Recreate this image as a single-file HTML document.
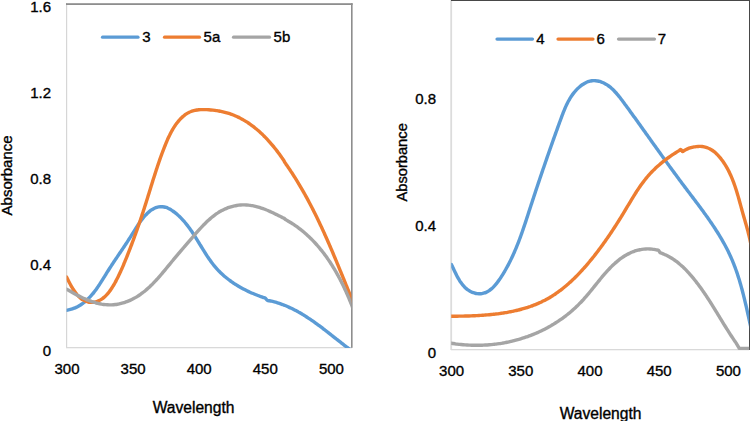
<!DOCTYPE html>
<html><head><meta charset="utf-8"><title>Absorbance spectra</title>
<style>
html,body{margin:0;padding:0;background:#fff;}
body{width:750px;height:421px;overflow:hidden;font-family:"Liberation Sans",sans-serif;}
svg{display:block;}
</style></head><body>
<svg width="750" height="421" viewBox="0 0 750 421">
<defs><clipPath id="cl"><rect x="66.6" y="0" width="284.8" height="347.9"/></clipPath><clipPath id="cr"><rect x="451.2" y="0" width="298" height="350"/></clipPath></defs>
<rect x="66" y="3" width="1.2" height="345" fill="#d6d6d6"/>
<rect x="66" y="347" width="286" height="1.3" fill="#d9d9d9"/>
<rect x="66" y="3.2" width="286.6" height="1.8" fill="#8e8e8e"/>
<rect x="351" y="3.2" width="1.6" height="344.6" fill="#8e8e8e"/>
<g fill="none" stroke-width="3.4" stroke-linecap="round" stroke-linejoin="round" clip-path="url(#cl)">
<path d="M66.36 310.34C66.71 310.28 67.78 310.09 68.47 309.94C69.15 309.79 69.83 309.62 70.49 309.44C71.16 309.26 71.81 309.05 72.45 308.84C73.09 308.62 73.72 308.39 74.34 308.14C74.96 307.90 75.57 307.63 76.16 307.36C76.76 307.08 77.35 306.79 77.92 306.49C78.50 306.18 79.07 305.86 79.62 305.53C80.18 305.20 80.73 304.86 81.26 304.50C81.80 304.14 82.33 303.77 82.85 303.39C83.37 303.01 83.88 302.62 84.38 302.22C84.89 301.81 85.38 301.40 85.87 300.98C86.36 300.55 86.84 300.12 87.31 299.67C87.78 299.23 88.25 298.77 88.70 298.31C89.16 297.85 89.61 297.37 90.06 296.89C90.50 296.41 90.94 295.92 91.37 295.43C91.81 294.93 92.23 294.43 92.65 293.92C93.08 293.41 93.49 292.89 93.90 292.36C94.31 291.84 94.72 291.31 95.12 290.77C95.52 290.24 95.92 289.70 96.31 289.15C96.71 288.60 97.09 288.05 97.48 287.50C97.86 286.94 98.25 286.38 98.63 285.82C99.00 285.26 99.38 284.69 99.75 284.12C100.13 283.55 100.50 282.98 100.86 282.40C101.23 281.83 101.60 281.25 101.96 280.67C102.33 280.09 102.69 279.51 103.05 278.93C103.41 278.35 103.77 277.77 104.13 277.18C104.49 276.60 104.85 276.02 105.21 275.44C105.57 274.86 105.93 274.27 106.28 273.69C106.64 273.11 107.00 272.53 107.36 271.96C107.72 271.38 108.08 270.80 108.44 270.23C108.80 269.66 109.16 269.09 109.52 268.52C109.89 267.95 110.25 267.38 110.61 266.82C110.98 266.25 111.34 265.69 111.71 265.13C112.08 264.57 112.44 264.01 112.81 263.46C113.18 262.90 113.54 262.34 113.91 261.79C114.28 261.23 114.65 260.68 115.02 260.13C115.39 259.58 115.76 259.03 116.13 258.48C116.50 257.93 116.87 257.38 117.24 256.83C117.60 256.28 117.97 255.74 118.34 255.19C118.71 254.64 119.08 254.10 119.45 253.55C119.82 253.01 120.19 252.46 120.56 251.92C120.93 251.37 121.30 250.83 121.67 250.28C122.04 249.74 122.41 249.19 122.77 248.65C123.14 248.10 123.51 247.56 123.88 247.01C124.24 246.46 124.61 245.92 124.97 245.37C125.34 244.82 125.70 244.27 126.07 243.72C126.43 243.18 126.79 242.63 127.16 242.08C127.52 241.52 127.88 240.97 128.24 240.42C128.60 239.87 128.96 239.31 129.31 238.75C129.67 238.20 130.03 237.64 130.38 237.08C130.74 236.52 131.09 235.96 131.44 235.40C131.80 234.84 132.15 234.27 132.50 233.70C132.85 233.14 133.20 232.57 133.55 232.00C133.90 231.43 134.25 230.86 134.60 230.29C134.95 229.73 135.31 229.16 135.66 228.59C136.02 228.02 136.38 227.45 136.74 226.89C137.10 226.32 137.47 225.75 137.84 225.19C138.21 224.63 138.59 224.07 138.97 223.51C139.36 222.96 139.74 222.40 140.14 221.85C140.54 221.30 140.94 220.75 141.35 220.21C141.76 219.67 142.18 219.13 142.61 218.59C143.04 218.06 143.47 217.53 143.92 217.01C144.37 216.49 144.83 215.97 145.30 215.46C145.77 214.95 146.25 214.44 146.74 213.95C147.23 213.46 147.74 212.98 148.25 212.51C148.76 212.05 149.29 211.60 149.82 211.17C150.36 210.75 150.91 210.34 151.46 209.96C152.02 209.58 152.59 209.22 153.16 208.90C153.74 208.57 154.33 208.28 154.93 208.02C155.52 207.77 156.13 207.54 156.75 207.36C157.36 207.18 157.99 207.03 158.62 206.93C159.24 206.82 159.88 206.75 160.52 206.72C161.15 206.69 161.79 206.70 162.43 206.75C163.06 206.80 163.70 206.88 164.32 207.01C164.95 207.13 165.58 207.29 166.19 207.49C166.80 207.69 167.41 207.93 168.01 208.19C168.60 208.46 169.19 208.76 169.77 209.08C170.35 209.40 170.92 209.75 171.48 210.11C172.04 210.47 172.59 210.86 173.14 211.24C173.68 211.63 174.21 212.03 174.74 212.43C175.26 212.84 175.78 213.25 176.29 213.67C176.80 214.10 177.30 214.53 177.79 214.96C178.29 215.40 178.77 215.84 179.25 216.29C179.73 216.75 180.20 217.21 180.66 217.67C181.13 218.14 181.58 218.61 182.03 219.09C182.48 219.56 182.93 220.05 183.37 220.54C183.80 221.03 184.24 221.53 184.66 222.03C185.09 222.53 185.51 223.04 185.93 223.55C186.34 224.06 186.75 224.58 187.16 225.10C187.56 225.63 187.97 226.15 188.36 226.69C188.76 227.22 189.15 227.75 189.54 228.29C189.93 228.83 190.31 229.38 190.69 229.92C191.07 230.47 191.45 231.02 191.83 231.58C192.20 232.13 192.57 232.69 192.94 233.25C193.31 233.81 193.67 234.37 194.04 234.93C194.40 235.50 194.76 236.07 195.12 236.63C195.48 237.20 195.84 237.77 196.19 238.35C196.55 238.92 196.91 239.49 197.26 240.07C197.61 240.64 197.97 241.22 198.32 241.80C198.67 242.37 199.02 242.95 199.37 243.53C199.72 244.11 200.07 244.69 200.43 245.26C200.78 245.84 201.13 246.42 201.48 247.00C201.83 247.58 202.19 248.15 202.54 248.73C202.89 249.30 203.25 249.88 203.60 250.45C203.96 251.03 204.32 251.60 204.68 252.17C205.04 252.74 205.40 253.31 205.76 253.88C206.13 254.45 206.49 255.01 206.86 255.58C207.23 256.14 207.60 256.70 207.98 257.26C208.35 257.81 208.73 258.37 209.11 258.92C209.50 259.47 209.88 260.02 210.27 260.56C210.66 261.11 211.05 261.65 211.45 262.18C211.85 262.72 212.25 263.25 212.66 263.78C213.06 264.31 213.48 264.83 213.89 265.35C214.31 265.87 214.73 266.38 215.16 266.89C215.59 267.40 216.02 267.90 216.46 268.40C216.90 268.90 217.35 269.39 217.80 269.87C218.25 270.36 218.71 270.84 219.17 271.31C219.64 271.79 220.11 272.26 220.58 272.72C221.06 273.18 221.54 273.64 222.03 274.09C222.51 274.54 223.01 274.98 223.50 275.42C224.00 275.86 224.50 276.30 225.01 276.73C225.52 277.15 226.03 277.58 226.55 277.99C227.07 278.41 227.59 278.82 228.12 279.23C228.65 279.64 229.18 280.04 229.71 280.43C230.25 280.83 230.79 281.22 231.34 281.60C231.88 281.99 232.43 282.37 232.98 282.74C233.54 283.11 234.09 283.48 234.65 283.85C235.21 284.21 235.78 284.57 236.34 284.92C236.91 285.28 237.48 285.62 238.06 285.97C238.63 286.31 239.21 286.65 239.79 286.98C240.37 287.31 240.95 287.64 241.54 287.97C242.12 288.29 242.71 288.61 243.30 288.92C243.89 289.23 244.49 289.54 245.08 289.84C245.68 290.15 246.28 290.45 246.88 290.74C247.48 291.03 248.08 291.32 248.69 291.61C249.29 291.89 249.90 292.17 250.50 292.44C251.11 292.72 251.72 292.99 252.33 293.25C252.94 293.52 253.55 293.78 254.17 294.04C254.78 294.29 255.39 294.54 256.01 294.79C256.62 295.04 257.24 295.28 257.86 295.52C258.47 295.76 259.09 295.99 259.71 296.22C260.33 296.45 260.95 296.68 261.56 296.90C262.18 297.12 262.80 297.33 263.42 297.55C264.04 297.76 264.61 297.70 265.28 298.17C265.94 298.64 266.69 299.94 267.39 300.37C268.08 300.81 268.76 300.63 269.44 300.77C270.11 300.91 270.79 301.06 271.46 301.21C272.13 301.37 272.80 301.53 273.46 301.70C274.13 301.87 274.79 302.05 275.44 302.23C276.10 302.42 276.75 302.61 277.40 302.81C278.05 303.01 278.70 303.21 279.34 303.42C279.98 303.64 280.62 303.85 281.26 304.08C281.89 304.30 282.53 304.54 283.16 304.77C283.79 305.01 284.41 305.25 285.04 305.50C285.66 305.75 286.28 306.01 286.90 306.27C287.51 306.53 288.13 306.80 288.74 307.07C289.35 307.34 289.96 307.62 290.56 307.91C291.17 308.19 291.77 308.48 292.37 308.77C292.97 309.07 293.57 309.37 294.17 309.67C294.76 309.97 295.35 310.28 295.94 310.60C296.53 310.91 297.12 311.23 297.71 311.55C298.29 311.88 298.87 312.20 299.45 312.54C300.04 312.87 300.61 313.20 301.19 313.54C301.77 313.88 302.34 314.23 302.91 314.58C303.48 314.92 304.05 315.28 304.62 315.63C305.19 315.99 305.76 316.35 306.32 316.71C306.89 317.07 307.45 317.44 308.01 317.81C308.57 318.18 309.13 318.55 309.69 318.93C310.24 319.30 310.80 319.68 311.35 320.06C311.91 320.45 312.46 320.83 313.01 321.22C313.56 321.61 314.11 322.00 314.66 322.39C315.21 322.78 315.76 323.17 316.30 323.57C316.85 323.97 317.39 324.37 317.94 324.77C318.48 325.17 319.02 325.57 319.57 325.98C320.11 326.38 320.65 326.79 321.19 327.20C321.73 327.60 322.27 328.01 322.80 328.42C323.34 328.83 323.88 329.25 324.42 329.66C324.95 330.07 325.49 330.49 326.02 330.90C326.56 331.32 327.09 331.74 327.63 332.15C328.16 332.57 328.69 332.99 329.23 333.41C329.76 333.82 330.29 334.24 330.83 334.66C331.36 335.08 331.89 335.50 332.42 335.92C332.95 336.34 333.49 336.76 334.02 337.18C334.55 337.60 335.08 338.02 335.61 338.44C336.14 338.85 336.68 339.27 337.21 339.69C337.74 340.11 338.27 340.53 338.80 340.94C339.34 341.36 339.87 341.78 340.40 342.19C340.93 342.61 341.47 343.02 342.00 343.43C342.54 343.85 343.07 344.26 343.60 344.67C344.14 345.08 344.67 345.49 345.21 345.89C345.74 346.30 346.28 346.71 346.82 347.11C347.36 347.51 347.89 347.92 348.43 348.32C348.97 348.72 349.51 349.11 350.05 349.51C350.59 349.91 351.13 350.30 351.67 350.69C352.22 351.08 352.76 351.47 353.31 351.85C353.85 352.24 354.67 352.81 354.94 353.00" stroke="#5b9bd5"/>
<path d="M66.56 276.97C66.69 277.23 67.07 277.99 67.33 278.52C67.60 279.06 67.88 279.62 68.16 280.18C68.45 280.75 68.74 281.34 69.05 281.93C69.35 282.52 69.66 283.13 69.99 283.73C70.31 284.34 70.64 284.96 70.99 285.57C71.33 286.19 71.68 286.81 72.05 287.43C72.41 288.05 72.78 288.66 73.17 289.27C73.56 289.88 73.95 290.49 74.36 291.08C74.77 291.68 75.19 292.26 75.62 292.83C76.05 293.41 76.49 293.97 76.94 294.50C77.40 295.04 77.87 295.57 78.34 296.07C78.82 296.57 79.31 297.05 79.82 297.51C80.32 297.96 80.84 298.39 81.37 298.79C81.90 299.19 82.44 299.56 83.00 299.90C83.56 300.23 84.13 300.54 84.71 300.80C85.29 301.07 85.88 301.31 86.48 301.51C87.08 301.71 87.69 301.87 88.30 302.01C88.92 302.14 89.54 302.23 90.15 302.29C90.77 302.35 91.40 302.38 92.01 302.37C92.63 302.36 93.25 302.31 93.87 302.23C94.48 302.14 95.09 302.02 95.69 301.87C96.30 301.72 96.89 301.53 97.48 301.32C98.07 301.10 98.65 300.85 99.21 300.58C99.78 300.30 100.33 300.00 100.87 299.67C101.42 299.34 101.95 298.99 102.47 298.61C102.99 298.23 103.49 297.83 103.99 297.41C104.49 296.99 104.98 296.55 105.45 296.09C105.93 295.63 106.40 295.14 106.85 294.65C107.31 294.15 107.75 293.64 108.19 293.11C108.63 292.58 109.06 292.04 109.47 291.48C109.89 290.93 110.30 290.36 110.70 289.78C111.10 289.21 111.50 288.62 111.88 288.02C112.27 287.43 112.64 286.82 113.01 286.21C113.38 285.60 113.74 284.99 114.09 284.37C114.45 283.75 114.80 283.13 115.14 282.51C115.48 281.88 115.81 281.26 116.13 280.63C116.46 280.01 116.78 279.39 117.10 278.77C117.41 278.15 117.72 277.53 118.02 276.91C118.33 276.30 118.63 275.69 118.92 275.08C119.21 274.47 119.50 273.86 119.78 273.26C120.07 272.65 120.35 272.05 120.62 271.45C120.90 270.85 121.17 270.25 121.44 269.65C121.70 269.05 121.97 268.45 122.23 267.85C122.49 267.26 122.75 266.66 123.01 266.06C123.26 265.47 123.51 264.87 123.77 264.27C124.02 263.68 124.27 263.08 124.51 262.48C124.76 261.88 125.01 261.29 125.25 260.69C125.50 260.09 125.74 259.49 125.98 258.89C126.23 258.28 126.47 257.68 126.71 257.07C126.95 256.47 127.19 255.86 127.44 255.25C127.68 254.64 127.92 254.03 128.16 253.42C128.40 252.80 128.65 252.19 128.89 251.57C129.13 250.95 129.37 250.34 129.61 249.72C129.85 249.10 130.09 248.47 130.33 247.85C130.57 247.23 130.81 246.60 131.05 245.98C131.29 245.35 131.53 244.73 131.76 244.10C132.00 243.47 132.24 242.84 132.48 242.21C132.71 241.59 132.95 240.96 133.18 240.33C133.42 239.70 133.65 239.06 133.89 238.43C134.12 237.80 134.35 237.17 134.58 236.54C134.81 235.91 135.05 235.27 135.27 234.64C135.50 234.01 135.73 233.38 135.96 232.75C136.19 232.11 136.41 231.48 136.64 230.85C136.86 230.22 137.09 229.59 137.31 228.96C137.53 228.32 137.75 227.69 137.97 227.06C138.19 226.43 138.41 225.80 138.63 225.17C138.85 224.54 139.07 223.91 139.28 223.28C139.50 222.65 139.71 222.02 139.93 221.39C140.14 220.76 140.36 220.13 140.57 219.50C140.78 218.87 140.99 218.24 141.20 217.61C141.41 216.98 141.62 216.35 141.83 215.72C142.04 215.10 142.25 214.47 142.45 213.84C142.66 213.21 142.87 212.58 143.07 211.95C143.28 211.32 143.48 210.69 143.68 210.06C143.89 209.42 144.09 208.79 144.29 208.16C144.50 207.53 144.70 206.90 144.90 206.27C145.10 205.64 145.30 205.01 145.50 204.38C145.70 203.74 145.90 203.11 146.10 202.48C146.30 201.85 146.50 201.21 146.70 200.58C146.89 199.95 147.09 199.31 147.29 198.68C147.49 198.05 147.68 197.41 147.88 196.78C148.08 196.14 148.27 195.51 148.47 194.87C148.67 194.24 148.86 193.60 149.06 192.97C149.26 192.33 149.45 191.70 149.65 191.06C149.84 190.43 150.04 189.79 150.24 189.15C150.43 188.52 150.63 187.88 150.83 187.25C151.02 186.61 151.22 185.97 151.42 185.34C151.61 184.70 151.81 184.07 152.01 183.43C152.21 182.79 152.41 182.16 152.60 181.52C152.80 180.88 153.00 180.25 153.20 179.61C153.40 178.98 153.60 178.34 153.80 177.70C154.00 177.07 154.21 176.43 154.41 175.79C154.61 175.16 154.81 174.52 155.02 173.89C155.22 173.25 155.43 172.62 155.63 171.98C155.84 171.35 156.05 170.71 156.25 170.08C156.46 169.44 156.67 168.81 156.88 168.17C157.09 167.54 157.30 166.90 157.51 166.27C157.73 165.63 157.94 165.00 158.16 164.37C158.37 163.73 158.59 163.10 158.80 162.47C159.02 161.84 159.24 161.20 159.46 160.57C159.68 159.94 159.90 159.31 160.13 158.68C160.35 158.05 160.58 157.42 160.80 156.78C161.03 156.15 161.26 155.52 161.49 154.90C161.72 154.27 161.95 153.64 162.18 153.01C162.42 152.38 162.65 151.75 162.89 151.13C163.13 150.50 163.37 149.87 163.61 149.25C163.85 148.62 164.10 147.99 164.34 147.37C164.59 146.74 164.84 146.12 165.09 145.50C165.34 144.87 165.59 144.25 165.84 143.63C166.10 143.01 166.36 142.39 166.62 141.77C166.88 141.15 167.15 140.53 167.42 139.92C167.69 139.30 167.96 138.69 168.24 138.08C168.52 137.47 168.80 136.86 169.09 136.25C169.38 135.65 169.67 135.04 169.98 134.44C170.28 133.85 170.58 133.25 170.90 132.66C171.21 132.07 171.53 131.48 171.86 130.89C172.18 130.31 172.52 129.73 172.86 129.15C173.20 128.58 173.55 128.01 173.91 127.44C174.27 126.87 174.64 126.31 175.01 125.76C175.39 125.20 175.78 124.65 176.17 124.11C176.57 123.56 176.97 123.03 177.39 122.49C177.80 121.96 178.23 121.44 178.66 120.92C179.10 120.41 179.55 119.90 180.00 119.41C180.46 118.92 180.92 118.43 181.40 117.96C181.88 117.50 182.36 117.04 182.86 116.60C183.36 116.16 183.86 115.74 184.38 115.33C184.90 114.93 185.43 114.54 185.96 114.17C186.50 113.81 187.05 113.46 187.61 113.14C188.17 112.81 188.74 112.51 189.32 112.24C189.89 111.96 190.48 111.71 191.08 111.48C191.68 111.25 192.29 111.05 192.91 110.87C193.53 110.69 194.15 110.54 194.79 110.40C195.42 110.26 196.06 110.14 196.71 110.04C197.35 109.94 198.01 109.87 198.67 109.80C199.33 109.73 199.99 109.69 200.66 109.65C201.32 109.62 202.00 109.60 202.67 109.59C203.35 109.58 204.02 109.58 204.70 109.60C205.38 109.61 206.06 109.63 206.74 109.66C207.43 109.69 208.11 109.73 208.79 109.78C209.47 109.82 210.15 109.88 210.84 109.94C211.52 110.00 212.20 110.06 212.88 110.14C213.56 110.21 214.24 110.30 214.92 110.39C215.59 110.48 216.27 110.57 216.94 110.68C217.62 110.79 218.29 110.90 218.96 111.02C219.63 111.14 220.30 111.27 220.97 111.41C221.63 111.54 222.30 111.69 222.96 111.84C223.62 112.00 224.27 112.16 224.93 112.33C225.58 112.50 226.23 112.68 226.88 112.86C227.52 113.05 228.17 113.25 228.80 113.45C229.44 113.66 230.07 113.87 230.70 114.09C231.33 114.31 231.96 114.54 232.58 114.78C233.20 115.01 233.82 115.26 234.43 115.51C235.04 115.77 235.65 116.03 236.26 116.30C236.86 116.57 237.46 116.84 238.06 117.13C238.66 117.41 239.25 117.71 239.84 118.01C240.43 118.30 241.01 118.61 241.59 118.92C242.17 119.24 242.75 119.56 243.32 119.89C243.89 120.21 244.46 120.55 245.03 120.89C245.59 121.23 246.15 121.58 246.71 121.93C247.27 122.29 247.82 122.65 248.37 123.02C248.92 123.38 249.46 123.76 250.00 124.14C250.54 124.52 251.08 124.90 251.62 125.29C252.15 125.68 252.68 126.08 253.21 126.48C253.73 126.89 254.25 127.29 254.77 127.71C255.29 128.12 255.81 128.54 256.32 128.97C256.83 129.39 257.34 129.82 257.84 130.25C258.34 130.69 258.84 131.13 259.34 131.57C259.84 132.02 260.33 132.47 260.82 132.92C261.31 133.37 261.79 133.83 262.28 134.29C262.76 134.76 263.24 135.22 263.71 135.70C264.19 136.17 264.66 136.64 265.13 137.12C265.59 137.60 266.06 138.08 266.52 138.57C266.98 139.06 267.44 139.55 267.89 140.04C268.35 140.54 268.80 141.04 269.24 141.54C269.69 142.04 270.13 142.54 270.57 143.05C271.01 143.56 271.45 144.07 271.88 144.58C272.32 145.09 272.75 145.61 273.17 146.13C273.60 146.65 274.02 147.17 274.44 147.70C274.86 148.22 275.28 148.75 275.69 149.28C276.11 149.81 276.52 150.34 276.92 150.87C277.33 151.40 277.74 151.94 278.14 152.48C278.54 153.01 278.93 153.55 279.33 154.09C279.72 154.64 280.11 155.18 280.50 155.72C280.89 156.27 281.27 156.81 281.65 157.36C282.04 157.90 282.41 158.45 282.79 159.00C283.16 159.55 283.57 160.07 283.90 160.65C284.24 161.23 284.47 161.91 284.82 162.49C285.17 163.07 285.61 163.60 286.00 164.15C286.39 164.71 286.77 165.26 287.16 165.82C287.54 166.38 287.93 166.93 288.31 167.49C288.69 168.05 289.07 168.61 289.45 169.17C289.83 169.73 290.20 170.30 290.58 170.86C290.95 171.42 291.32 171.99 291.70 172.55C292.07 173.12 292.43 173.69 292.80 174.25C293.17 174.82 293.53 175.39 293.90 175.96C294.26 176.53 294.62 177.10 294.98 177.67C295.34 178.24 295.70 178.81 296.05 179.39C296.41 179.96 296.76 180.53 297.12 181.11C297.47 181.68 297.82 182.26 298.17 182.84C298.52 183.41 298.87 183.99 299.21 184.57C299.56 185.15 299.90 185.73 300.24 186.31C300.59 186.89 300.93 187.47 301.27 188.05C301.61 188.64 301.94 189.22 302.28 189.80C302.62 190.39 302.95 190.97 303.28 191.56C303.62 192.15 303.95 192.73 304.28 193.32C304.61 193.91 304.94 194.49 305.26 195.08C305.59 195.67 305.92 196.26 306.24 196.85C306.57 197.44 306.89 198.04 307.21 198.63C307.53 199.22 307.85 199.81 308.17 200.41C308.49 201.00 308.80 201.59 309.12 202.19C309.44 202.78 309.75 203.38 310.06 203.98C310.38 204.57 310.69 205.17 311.00 205.77C311.31 206.37 311.62 206.96 311.93 207.56C312.24 208.16 312.54 208.76 312.85 209.36C313.15 209.96 313.46 210.57 313.76 211.17C314.06 211.77 314.36 212.37 314.67 212.98C314.97 213.58 315.27 214.18 315.56 214.79C315.86 215.39 316.16 216.00 316.45 216.60C316.75 217.21 317.05 217.81 317.34 218.42C317.63 219.03 317.93 219.63 318.22 220.24C318.51 220.85 318.80 221.46 319.09 222.07C319.38 222.68 319.67 223.29 319.96 223.90C320.24 224.51 320.53 225.12 320.82 225.73C321.10 226.34 321.39 226.95 321.67 227.56C321.95 228.17 322.24 228.79 322.52 229.40C322.80 230.01 323.08 230.62 323.36 231.24C323.64 231.85 323.92 232.47 324.20 233.08C324.48 233.70 324.75 234.31 325.03 234.93C325.31 235.54 325.58 236.16 325.86 236.77C326.13 237.39 326.41 238.01 326.68 238.62C326.95 239.24 327.23 239.86 327.50 240.48C327.77 241.09 328.04 241.71 328.31 242.33C328.58 242.95 328.85 243.57 329.12 244.19C329.39 244.81 329.66 245.43 329.93 246.05C330.20 246.67 330.46 247.29 330.73 247.91C331.00 248.53 331.26 249.15 331.53 249.77C331.79 250.39 332.06 251.01 332.32 251.63C332.59 252.25 332.85 252.87 333.11 253.50C333.38 254.12 333.64 254.74 333.90 255.36C334.16 255.98 334.43 256.61 334.69 257.23C334.95 257.85 335.21 258.48 335.47 259.10C335.73 259.72 335.99 260.35 336.25 260.97C336.51 261.59 336.77 262.22 337.03 262.84C337.29 263.46 337.54 264.09 337.80 264.71C338.06 265.34 338.32 265.96 338.58 266.58C338.83 267.21 339.09 267.83 339.35 268.46C339.60 269.08 339.86 269.71 340.12 270.33C340.37 270.96 340.63 271.58 340.89 272.20C341.14 272.83 341.40 273.45 341.65 274.08C341.91 274.70 342.16 275.33 342.42 275.95C342.67 276.58 342.93 277.20 343.18 277.83C343.44 278.45 343.69 279.08 343.95 279.70C344.20 280.33 344.45 280.95 344.71 281.58C344.96 282.20 345.22 282.83 345.47 283.45C345.73 284.08 345.98 284.70 346.23 285.33C346.49 285.95 346.74 286.58 347.00 287.20C347.25 287.83 347.50 288.45 347.76 289.07C348.01 289.70 348.27 290.32 348.52 290.95C348.77 291.57 349.03 292.19 349.28 292.82C349.54 293.44 349.79 294.07 350.05 294.69C350.30 295.31 350.56 295.94 350.81 296.56C351.07 297.18 351.32 297.81 351.58 298.43C351.83 299.05 352.09 299.67 352.34 300.30C352.60 300.92 352.86 301.54 353.11 302.16C353.37 302.79 353.75 303.72 353.88 304.03" stroke="#ed7d31"/>
<path d="M66.53 289.09C66.80 289.25 67.61 289.74 68.16 290.07C68.71 290.40 69.27 290.73 69.83 291.06C70.39 291.39 70.95 291.72 71.52 292.05C72.09 292.37 72.67 292.70 73.25 293.03C73.83 293.35 74.42 293.68 75.01 294.00C75.60 294.32 76.19 294.64 76.79 294.96C77.39 295.27 77.99 295.59 78.60 295.89C79.20 296.20 79.81 296.51 80.43 296.81C81.04 297.11 81.66 297.41 82.28 297.70C82.90 297.99 83.52 298.28 84.15 298.56C84.78 298.84 85.41 299.11 86.04 299.38C86.67 299.65 87.31 299.91 87.95 300.16C88.58 300.41 89.23 300.66 89.87 300.90C90.51 301.14 91.15 301.37 91.80 301.59C92.45 301.81 93.10 302.02 93.75 302.22C94.40 302.42 95.05 302.62 95.70 302.80C96.35 302.98 97.01 303.15 97.66 303.32C98.32 303.48 98.97 303.63 99.63 303.77C100.29 303.90 100.95 304.03 101.60 304.15C102.26 304.26 102.92 304.36 103.58 304.45C104.24 304.54 104.90 304.61 105.56 304.68C106.22 304.74 106.87 304.79 107.53 304.82C108.19 304.85 108.85 304.87 109.51 304.87C110.16 304.88 110.82 304.87 111.48 304.84C112.13 304.81 112.79 304.77 113.44 304.72C114.09 304.66 114.74 304.60 115.39 304.51C116.04 304.43 116.69 304.34 117.34 304.23C117.99 304.12 118.63 304.00 119.27 303.86C119.91 303.73 120.55 303.58 121.19 303.42C121.83 303.26 122.46 303.08 123.09 302.90C123.72 302.71 124.35 302.52 124.98 302.31C125.60 302.10 126.22 301.88 126.84 301.65C127.46 301.42 128.07 301.17 128.68 300.92C129.29 300.67 129.90 300.40 130.50 300.13C131.10 299.85 131.70 299.56 132.29 299.27C132.89 298.97 133.47 298.67 134.06 298.35C134.64 298.04 135.22 297.71 135.79 297.38C136.36 297.04 136.93 296.70 137.49 296.35C138.05 295.99 138.61 295.63 139.16 295.26C139.71 294.89 140.26 294.52 140.80 294.13C141.34 293.74 141.87 293.35 142.40 292.95C142.93 292.55 143.46 292.14 143.98 291.72C144.50 291.31 145.02 290.88 145.53 290.45C146.05 290.02 146.55 289.59 147.06 289.15C147.56 288.70 148.06 288.25 148.56 287.80C149.06 287.35 149.55 286.89 150.04 286.42C150.52 285.96 151.01 285.49 151.49 285.01C151.97 284.54 152.45 284.06 152.92 283.57C153.40 283.09 153.87 282.60 154.34 282.11C154.81 281.62 155.27 281.12 155.74 280.62C156.20 280.13 156.66 279.62 157.11 279.12C157.57 278.61 158.03 278.10 158.48 277.59C158.93 277.08 159.38 276.57 159.83 276.05C160.27 275.54 160.72 275.02 161.16 274.50C161.61 273.99 162.05 273.46 162.49 272.94C162.93 272.42 163.36 271.90 163.80 271.38C164.24 270.85 164.67 270.33 165.11 269.81C165.54 269.28 165.97 268.76 166.40 268.24C166.83 267.71 167.26 267.19 167.69 266.67C168.12 266.15 168.55 265.62 168.98 265.10C169.41 264.58 169.83 264.06 170.26 263.55C170.69 263.03 171.11 262.51 171.54 262.00C171.96 261.48 172.39 260.97 172.81 260.46C173.24 259.95 173.66 259.44 174.09 258.93C174.51 258.42 174.94 257.91 175.36 257.40C175.79 256.89 176.21 256.39 176.64 255.88C177.06 255.37 177.48 254.87 177.91 254.37C178.33 253.86 178.76 253.36 179.18 252.86C179.61 252.35 180.03 251.85 180.46 251.35C180.88 250.85 181.31 250.34 181.74 249.84C182.16 249.34 182.59 248.84 183.02 248.34C183.44 247.84 183.87 247.34 184.30 246.84C184.73 246.34 185.16 245.84 185.59 245.33C186.02 244.83 186.45 244.33 186.88 243.83C187.31 243.33 187.74 242.83 188.17 242.33C188.61 241.82 189.04 241.32 189.47 240.82C189.91 240.31 190.34 239.81 190.78 239.31C191.22 238.80 191.66 238.30 192.09 237.79C192.53 237.28 192.97 236.78 193.42 236.27C193.86 235.76 194.30 235.25 194.75 234.74C195.19 234.23 195.64 233.72 196.08 233.21C196.53 232.70 196.98 232.19 197.43 231.68C197.88 231.17 198.34 230.66 198.79 230.16C199.25 229.65 199.71 229.14 200.17 228.64C200.63 228.14 201.09 227.64 201.56 227.14C202.02 226.64 202.49 226.14 202.97 225.65C203.44 225.16 203.91 224.67 204.39 224.19C204.87 223.70 205.35 223.22 205.84 222.75C206.32 222.27 206.81 221.80 207.30 221.34C207.80 220.87 208.29 220.41 208.79 219.96C209.30 219.50 209.80 219.06 210.31 218.62C210.82 218.17 211.33 217.74 211.85 217.31C212.37 216.89 212.89 216.47 213.42 216.06C213.95 215.65 214.48 215.24 215.02 214.85C215.55 214.46 216.10 214.07 216.65 213.70C217.19 213.32 217.75 212.96 218.31 212.60C218.87 212.24 219.43 211.90 220.00 211.56C220.57 211.23 221.15 210.90 221.73 210.59C222.31 210.28 222.90 209.98 223.50 209.69C224.09 209.40 224.69 209.12 225.30 208.86C225.91 208.59 226.52 208.34 227.13 208.10C227.75 207.86 228.37 207.63 228.99 207.41C229.62 207.20 230.24 207.00 230.88 206.81C231.51 206.62 232.15 206.44 232.78 206.28C233.42 206.11 234.07 205.97 234.71 205.83C235.36 205.69 236.00 205.57 236.65 205.46C237.30 205.36 237.95 205.26 238.61 205.18C239.26 205.10 239.92 205.04 240.57 204.99C241.23 204.94 241.89 204.90 242.54 204.88C243.20 204.86 243.86 204.86 244.52 204.87C245.18 204.88 245.84 204.90 246.50 204.94C247.16 204.98 247.81 205.04 248.47 205.11C249.13 205.18 249.79 205.26 250.44 205.36C251.10 205.45 251.76 205.57 252.41 205.69C253.07 205.81 253.72 205.94 254.38 206.09C255.03 206.24 255.68 206.39 256.33 206.56C256.98 206.73 257.63 206.91 258.28 207.10C258.93 207.29 259.58 207.48 260.22 207.69C260.86 207.90 261.51 208.11 262.15 208.34C262.79 208.56 263.43 208.79 264.06 209.03C264.70 209.27 265.33 209.52 265.96 209.77C266.59 210.02 267.22 210.28 267.85 210.55C268.47 210.81 269.10 211.08 269.72 211.36C270.34 211.63 270.95 211.91 271.57 212.19C272.18 212.47 272.79 212.76 273.40 213.05C274.00 213.34 274.61 213.63 275.21 213.92C275.81 214.21 276.40 214.51 277.00 214.80C277.59 215.09 278.18 215.39 278.77 215.68C279.35 215.98 279.94 216.27 280.52 216.56C281.10 216.85 281.67 217.14 282.25 217.42C282.82 217.71 283.32 217.86 283.95 218.27C284.59 218.68 285.40 219.45 286.05 219.89C286.70 220.34 287.26 220.57 287.86 220.92C288.46 221.26 289.06 221.61 289.65 221.97C290.24 222.33 290.82 222.69 291.41 223.05C291.99 223.42 292.56 223.79 293.14 224.17C293.71 224.54 294.28 224.92 294.84 225.31C295.40 225.69 295.96 226.08 296.52 226.48C297.07 226.87 297.62 227.27 298.17 227.67C298.71 228.08 299.26 228.49 299.79 228.90C300.33 229.31 300.86 229.73 301.39 230.15C301.92 230.57 302.45 231.00 302.97 231.42C303.49 231.85 304.00 232.29 304.52 232.73C305.03 233.16 305.54 233.61 306.04 234.05C306.55 234.50 307.05 234.95 307.54 235.40C308.04 235.86 308.53 236.32 309.02 236.78C309.51 237.24 309.99 237.70 310.47 238.17C310.95 238.64 311.43 239.12 311.90 239.59C312.37 240.07 312.84 240.55 313.30 241.04C313.77 241.52 314.23 242.01 314.69 242.50C315.14 242.99 315.60 243.49 316.05 243.98C316.50 244.48 316.94 244.98 317.38 245.49C317.83 245.99 318.26 246.50 318.70 247.01C319.13 247.53 319.57 248.04 319.99 248.56C320.42 249.08 320.84 249.60 321.26 250.12C321.69 250.65 322.10 251.17 322.52 251.70C322.93 252.23 323.34 252.77 323.75 253.30C324.15 253.84 324.56 254.38 324.96 254.92C325.35 255.46 325.75 256.00 326.14 256.55C326.54 257.10 326.93 257.65 327.31 258.20C327.70 258.75 328.08 259.31 328.46 259.86C328.84 260.42 329.22 260.98 329.59 261.54C329.97 262.10 330.34 262.67 330.70 263.24C331.07 263.80 331.43 264.37 331.79 264.94C332.16 265.51 332.51 266.09 332.87 266.66C333.22 267.24 333.57 267.82 333.92 268.40C334.27 268.98 334.62 269.56 334.96 270.14C335.30 270.73 335.64 271.31 335.98 271.90C336.32 272.49 336.65 273.08 336.98 273.67C337.31 274.26 337.64 274.86 337.97 275.45C338.29 276.04 338.61 276.64 338.93 277.24C339.25 277.84 339.57 278.44 339.89 279.04C340.20 279.64 340.51 280.24 340.82 280.85C341.13 281.45 341.44 282.06 341.74 282.66C342.04 283.27 342.34 283.88 342.64 284.49C342.94 285.10 343.24 285.71 343.53 286.32C343.83 286.93 344.12 287.54 344.40 288.16C344.69 288.77 344.98 289.39 345.26 290.00C345.55 290.62 345.83 291.24 346.11 291.85C346.39 292.47 346.66 293.09 346.94 293.71C347.21 294.33 347.48 294.95 347.75 295.57C348.02 296.19 348.29 296.81 348.56 297.43C348.82 298.06 349.08 298.68 349.34 299.30C349.61 299.92 349.86 300.55 350.12 301.17C350.38 301.80 350.63 302.42 350.88 303.05C351.14 303.67 351.39 304.30 351.63 304.92C351.88 305.55 352.13 306.17 352.37 306.80C352.62 307.42 352.86 308.05 353.10 308.68C353.34 309.30 353.70 310.24 353.82 310.55" stroke="#a5a5a5"/>
</g>
<rect x="450.3" y="0" width="1.8" height="350" fill="#dcdcdc"/>
<rect x="451" y="349" width="298" height="1.3" fill="#d9d9d9"/>
<rect x="451" y="0" width="299" height="1" fill="#474747"/>
<rect x="749" y="0" width="1" height="350" fill="#474747"/>
<g fill="none" stroke-width="3.4" stroke-linecap="round" stroke-linejoin="round" clip-path="url(#cr)">
<path d="M451.45 264.55C451.58 264.80 451.95 265.56 452.20 266.09C452.45 266.62 452.71 267.17 452.97 267.73C453.24 268.29 453.50 268.87 453.78 269.45C454.05 270.04 454.33 270.64 454.62 271.25C454.91 271.85 455.20 272.47 455.50 273.09C455.80 273.71 456.11 274.33 456.43 274.96C456.75 275.58 457.08 276.21 457.42 276.84C457.76 277.46 458.10 278.09 458.46 278.71C458.82 279.32 459.19 279.94 459.57 280.54C459.95 281.15 460.34 281.75 460.75 282.34C461.16 282.92 461.57 283.50 462.01 284.06C462.44 284.62 462.88 285.17 463.34 285.70C463.80 286.23 464.28 286.74 464.77 287.23C465.26 287.72 465.77 288.19 466.29 288.64C466.81 289.08 467.35 289.51 467.91 289.90C468.46 290.30 469.04 290.67 469.63 291.00C470.22 291.34 470.82 291.65 471.44 291.93C472.05 292.21 472.68 292.46 473.31 292.68C473.94 292.89 474.58 293.08 475.22 293.23C475.86 293.39 476.50 293.51 477.14 293.59C477.77 293.68 478.41 293.73 479.04 293.75C479.66 293.77 480.28 293.75 480.89 293.70C481.49 293.64 482.09 293.55 482.67 293.43C483.26 293.31 483.83 293.16 484.40 292.97C484.96 292.79 485.52 292.57 486.06 292.33C486.61 292.08 487.14 291.81 487.67 291.51C488.20 291.22 488.71 290.89 489.22 290.54C489.73 290.20 490.23 289.83 490.72 289.43C491.21 289.04 491.69 288.63 492.17 288.19C492.64 287.76 493.11 287.31 493.57 286.84C494.03 286.37 494.48 285.89 494.92 285.39C495.36 284.89 495.80 284.37 496.23 283.85C496.66 283.32 497.08 282.78 497.50 282.23C497.92 281.69 498.33 281.13 498.73 280.56C499.13 280.00 499.53 279.42 499.92 278.84C500.32 278.26 500.70 277.68 501.08 277.09C501.46 276.51 501.84 275.92 502.21 275.33C502.58 274.73 502.95 274.14 503.31 273.55C503.67 272.96 504.03 272.36 504.38 271.77C504.73 271.17 505.08 270.58 505.42 269.98C505.77 269.38 506.10 268.78 506.44 268.18C506.77 267.58 507.10 266.98 507.43 266.38C507.75 265.78 508.07 265.18 508.39 264.58C508.71 263.97 509.02 263.37 509.33 262.76C509.64 262.16 509.95 261.55 510.25 260.95C510.55 260.34 510.85 259.73 511.14 259.12C511.44 258.51 511.73 257.90 512.01 257.29C512.30 256.68 512.59 256.07 512.87 255.46C513.15 254.85 513.42 254.24 513.70 253.62C513.97 253.01 514.24 252.39 514.51 251.78C514.78 251.16 515.04 250.55 515.30 249.93C515.57 249.32 515.82 248.70 516.08 248.08C516.34 247.46 516.59 246.85 516.84 246.23C517.09 245.61 517.34 244.99 517.59 244.37C517.83 243.75 518.08 243.13 518.32 242.51C518.56 241.88 518.80 241.26 519.03 240.64C519.27 240.02 519.50 239.40 519.74 238.77C519.97 238.15 520.20 237.52 520.43 236.90C520.66 236.28 520.88 235.65 521.11 235.03C521.33 234.40 521.56 233.77 521.78 233.15C522.00 232.52 522.22 231.90 522.44 231.27C522.66 230.64 522.87 230.01 523.09 229.39C523.31 228.76 523.52 228.13 523.73 227.50C523.95 226.88 524.16 226.25 524.37 225.62C524.58 224.99 524.79 224.36 525.00 223.73C525.21 223.10 525.42 222.47 525.63 221.84C525.84 221.21 526.04 220.58 526.25 219.95C526.46 219.32 526.66 218.69 526.87 218.06C527.07 217.43 527.28 216.80 527.48 216.17C527.69 215.54 527.89 214.91 528.10 214.28C528.30 213.65 528.51 213.02 528.71 212.38C528.92 211.75 529.12 211.12 529.32 210.49C529.53 209.86 529.73 209.23 529.94 208.60C530.14 207.97 530.35 207.34 530.56 206.71C530.76 206.07 530.97 205.44 531.17 204.81C531.38 204.18 531.58 203.55 531.79 202.92C532.00 202.29 532.20 201.66 532.41 201.03C532.62 200.39 532.83 199.76 533.03 199.13C533.24 198.50 533.45 197.87 533.66 197.24C533.87 196.61 534.07 195.98 534.28 195.35C534.49 194.71 534.70 194.08 534.91 193.45C535.12 192.82 535.33 192.19 535.54 191.56C535.75 190.93 535.96 190.30 536.17 189.66C536.38 189.03 536.59 188.40 536.80 187.77C537.01 187.14 537.22 186.51 537.43 185.88C537.64 185.24 537.85 184.61 538.06 183.98C538.28 183.35 538.49 182.72 538.70 182.09C538.91 181.46 539.13 180.82 539.34 180.19C539.55 179.56 539.77 178.93 539.98 178.30C540.19 177.66 540.41 177.03 540.62 176.40C540.83 175.77 541.05 175.14 541.26 174.50C541.48 173.87 541.69 173.24 541.91 172.61C542.12 171.98 542.34 171.34 542.55 170.71C542.77 170.08 542.99 169.45 543.20 168.81C543.42 168.18 543.64 167.55 543.85 166.92C544.07 166.28 544.29 165.65 544.51 165.02C544.72 164.39 544.94 163.75 545.16 163.12C545.38 162.49 545.60 161.86 545.81 161.22C546.03 160.59 546.25 159.96 546.47 159.32C546.69 158.69 546.91 158.06 547.13 157.42C547.35 156.79 547.57 156.16 547.79 155.52C548.01 154.89 548.23 154.26 548.46 153.62C548.68 152.99 548.90 152.35 549.12 151.72C549.34 151.09 549.57 150.45 549.79 149.82C550.01 149.18 550.23 148.55 550.46 147.92C550.68 147.28 550.91 146.65 551.13 146.01C551.35 145.38 551.58 144.74 551.80 144.11C552.03 143.47 552.25 142.84 552.48 142.20C552.70 141.57 552.93 140.93 553.15 140.30C553.38 139.66 553.61 139.03 553.83 138.39C554.06 137.76 554.29 137.12 554.52 136.49C554.74 135.85 554.97 135.21 555.20 134.58C555.43 133.94 555.66 133.31 555.88 132.67C556.11 132.03 556.34 131.40 556.57 130.76C556.80 130.12 557.03 129.49 557.26 128.85C557.49 128.21 557.72 127.58 557.95 126.94C558.19 126.30 558.42 125.66 558.65 125.03C558.88 124.39 559.11 123.75 559.34 123.11C559.58 122.48 559.81 121.84 560.04 121.20C560.28 120.56 560.51 119.93 560.74 119.29C560.98 118.65 561.21 118.01 561.45 117.37C561.69 116.74 561.92 116.10 562.16 115.46C562.40 114.83 562.65 114.20 562.89 113.56C563.13 112.93 563.38 112.30 563.63 111.67C563.88 111.04 564.14 110.42 564.40 109.80C564.65 109.17 564.92 108.55 565.18 107.94C565.45 107.32 565.72 106.71 566.00 106.10C566.28 105.49 566.56 104.89 566.85 104.29C567.14 103.69 567.43 103.09 567.73 102.51C568.03 101.92 568.34 101.33 568.66 100.75C568.97 100.17 569.30 99.60 569.63 99.04C569.96 98.47 570.30 97.91 570.65 97.36C571.00 96.80 571.35 96.26 571.72 95.72C572.09 95.18 572.46 94.65 572.85 94.13C573.24 93.60 573.63 93.09 574.04 92.58C574.45 92.08 574.86 91.58 575.29 91.09C575.72 90.60 576.16 90.12 576.62 89.65C577.07 89.19 577.53 88.73 578.01 88.28C578.49 87.83 578.98 87.39 579.49 86.96C579.99 86.53 580.51 86.12 581.04 85.71C581.57 85.31 582.12 84.91 582.68 84.53C583.24 84.16 583.81 83.79 584.40 83.45C584.98 83.11 585.58 82.78 586.18 82.49C586.79 82.20 587.41 81.93 588.03 81.70C588.65 81.47 589.29 81.26 589.93 81.10C590.57 80.94 591.22 80.82 591.87 80.73C592.52 80.65 593.18 80.61 593.83 80.61C594.49 80.60 595.15 80.64 595.80 80.70C596.45 80.76 597.11 80.86 597.75 80.99C598.39 81.11 599.04 81.27 599.66 81.45C600.29 81.62 600.91 81.83 601.52 82.05C602.12 82.28 602.72 82.53 603.31 82.80C603.89 83.07 604.47 83.36 605.04 83.67C605.60 83.98 606.16 84.31 606.71 84.65C607.25 85.00 607.79 85.37 608.32 85.75C608.85 86.13 609.37 86.53 609.89 86.94C610.40 87.35 610.90 87.78 611.40 88.22C611.90 88.66 612.39 89.12 612.88 89.58C613.36 90.05 613.84 90.53 614.31 91.02C614.78 91.50 615.24 92.00 615.70 92.51C616.16 93.02 616.61 93.53 617.06 94.06C617.51 94.58 617.96 95.11 618.39 95.64C618.83 96.18 619.27 96.72 619.70 97.27C620.13 97.81 620.55 98.36 620.98 98.92C621.40 99.47 621.82 100.02 622.24 100.58C622.66 101.13 623.07 101.69 623.48 102.25C623.90 102.80 624.31 103.36 624.71 103.92C625.12 104.47 625.53 105.02 625.93 105.57C626.34 106.13 626.74 106.68 627.14 107.23C627.55 107.78 627.95 108.32 628.35 108.87C628.74 109.42 629.14 109.96 629.54 110.51C629.94 111.05 630.33 111.60 630.72 112.14C631.12 112.68 631.51 113.22 631.90 113.77C632.30 114.31 632.69 114.85 633.08 115.39C633.47 115.93 633.86 116.47 634.24 117.01C634.63 117.55 635.02 118.09 635.41 118.62C635.79 119.16 636.18 119.70 636.57 120.24C636.95 120.78 637.34 121.31 637.72 121.85C638.11 122.39 638.49 122.92 638.88 123.46C639.26 124.00 639.65 124.53 640.03 125.07C640.41 125.61 640.80 126.15 641.18 126.68C641.56 127.22 641.95 127.76 642.33 128.30C642.72 128.83 643.10 129.37 643.48 129.91C643.87 130.45 644.25 130.99 644.64 131.53C645.02 132.07 645.41 132.60 645.79 133.14C646.17 133.68 646.56 134.22 646.94 134.76C647.33 135.30 647.71 135.84 648.10 136.38C648.48 136.92 648.87 137.46 649.25 138.00C649.64 138.54 650.02 139.08 650.41 139.62C650.79 140.16 651.18 140.70 651.56 141.24C651.95 141.79 652.33 142.33 652.72 142.87C653.11 143.41 653.49 143.95 653.88 144.49C654.26 145.03 654.65 145.57 655.04 146.11C655.42 146.66 655.81 147.20 656.20 147.74C656.58 148.28 656.97 148.82 657.36 149.36C657.75 149.91 658.13 150.45 658.52 150.99C658.91 151.53 659.30 152.07 659.69 152.61C660.07 153.16 660.46 153.70 660.85 154.24C661.24 154.78 661.63 155.32 662.02 155.87C662.41 156.41 662.80 156.95 663.19 157.49C663.58 158.03 663.97 158.58 664.36 159.12C664.75 159.66 665.14 160.20 665.53 160.74C665.92 161.28 666.31 161.83 666.70 162.37C667.09 162.91 667.48 163.45 667.88 163.99C668.27 164.53 668.66 165.08 669.05 165.62C669.45 166.16 669.84 166.70 670.23 167.24C670.63 167.78 671.02 168.32 671.41 168.86C671.81 169.40 672.20 169.95 672.60 170.49C672.99 171.03 673.39 171.57 673.78 172.11C674.18 172.65 674.58 173.19 674.97 173.73C675.37 174.27 675.76 174.81 676.16 175.35C676.56 175.89 676.96 176.43 677.35 176.97C677.75 177.51 678.15 178.05 678.55 178.58C678.95 179.12 679.35 179.66 679.75 180.20C680.15 180.74 680.55 181.28 680.95 181.82C681.35 182.35 681.75 182.89 682.15 183.43C682.55 183.97 682.96 184.50 683.36 185.04C683.76 185.58 684.16 186.12 684.57 186.65C684.97 187.19 685.37 187.73 685.78 188.26C686.18 188.80 686.59 189.33 686.99 189.87C687.40 190.41 687.80 190.94 688.21 191.48C688.61 192.01 689.02 192.55 689.42 193.08C689.83 193.62 690.24 194.15 690.64 194.69C691.05 195.23 691.45 195.76 691.86 196.30C692.26 196.83 692.67 197.37 693.07 197.90C693.48 198.44 693.88 198.97 694.29 199.51C694.69 200.05 695.10 200.58 695.50 201.12C695.90 201.66 696.31 202.19 696.71 202.73C697.11 203.27 697.52 203.80 697.92 204.34C698.32 204.88 698.72 205.42 699.12 205.95C699.52 206.49 699.92 207.03 700.32 207.57C700.72 208.11 701.12 208.65 701.52 209.19C701.91 209.73 702.31 210.27 702.70 210.81C703.10 211.35 703.49 211.89 703.89 212.43C704.28 212.97 704.67 213.52 705.07 214.06C705.46 214.60 705.85 215.15 706.24 215.69C706.62 216.24 707.01 216.78 707.40 217.33C707.78 217.87 708.17 218.42 708.55 218.97C708.93 219.51 709.32 220.06 709.70 220.61C710.08 221.16 710.46 221.71 710.83 222.26C711.21 222.81 711.59 223.36 711.96 223.91C712.33 224.47 712.70 225.02 713.07 225.57C713.45 226.13 713.81 226.68 714.18 227.24C714.55 227.80 714.91 228.35 715.27 228.91C715.63 229.47 716.00 230.03 716.35 230.59C716.71 231.15 717.07 231.72 717.42 232.28C717.78 232.84 718.13 233.41 718.48 233.97C718.83 234.54 719.17 235.10 719.52 235.67C719.86 236.24 720.20 236.81 720.54 237.38C720.88 237.95 721.22 238.52 721.55 239.10C721.89 239.67 722.22 240.24 722.55 240.82C722.88 241.40 723.21 241.98 723.53 242.55C723.85 243.13 724.17 243.71 724.49 244.30C724.81 244.88 725.12 245.46 725.44 246.05C725.75 246.63 726.06 247.22 726.36 247.81C726.67 248.40 726.97 248.99 727.27 249.58C727.57 250.17 727.87 250.77 728.16 251.36C728.46 251.96 728.75 252.56 729.03 253.16C729.32 253.75 729.60 254.36 729.88 254.96C730.16 255.56 730.44 256.17 730.71 256.77C730.98 257.38 731.25 257.99 731.52 258.60C731.78 259.21 732.05 259.82 732.30 260.44C732.56 261.05 732.82 261.67 733.07 262.28C733.32 262.90 733.57 263.52 733.81 264.14C734.06 264.77 734.30 265.39 734.54 266.01C734.77 266.64 735.01 267.27 735.24 267.89C735.47 268.52 735.70 269.15 735.93 269.78C736.15 270.41 736.37 271.05 736.59 271.68C736.81 272.31 737.03 272.95 737.24 273.59C737.46 274.22 737.67 274.86 737.87 275.50C738.08 276.14 738.29 276.78 738.49 277.42C738.69 278.06 738.89 278.70 739.09 279.35C739.29 279.99 739.49 280.63 739.68 281.28C739.87 281.92 740.06 282.57 740.25 283.22C740.44 283.86 740.63 284.51 740.81 285.16C740.99 285.81 741.18 286.46 741.36 287.11C741.54 287.76 741.71 288.41 741.89 289.06C742.06 289.71 742.24 290.36 742.41 291.01C742.58 291.67 742.75 292.32 742.92 292.97C743.09 293.62 743.26 294.28 743.42 294.93C743.59 295.58 743.75 296.24 743.91 296.89C744.08 297.55 744.24 298.20 744.40 298.85C744.56 299.51 744.71 300.16 744.87 300.82C745.03 301.47 745.18 302.13 745.34 302.78C745.49 303.44 745.64 304.09 745.80 304.74C745.95 305.40 746.10 306.05 746.25 306.71C746.40 307.36 746.55 308.01 746.70 308.67C746.85 309.32 746.99 309.97 747.14 310.63C747.29 311.28 747.43 311.93 747.58 312.58C747.72 313.23 747.87 313.88 748.01 314.54C748.16 315.19 748.30 315.84 748.44 316.48C748.59 317.13 748.73 317.78 748.87 318.43C749.02 319.08 749.16 319.72 749.30 320.37C749.44 321.02 749.58 321.66 749.73 322.31C749.87 322.95 750.01 323.59 750.15 324.24C750.30 324.88 750.44 325.52 750.58 326.16C750.72 326.80 750.86 327.44 751.01 328.07C751.15 328.71 751.29 329.35 751.44 329.98C751.58 330.62 751.80 331.57 751.87 331.89" stroke="#5b9bd5"/>
<path d="M451.43 316.25C451.75 316.24 452.70 316.24 453.34 316.23C453.98 316.23 454.63 316.22 455.27 316.21C455.92 316.21 456.57 316.20 457.21 316.19C457.86 316.18 458.51 316.18 459.17 316.17C459.82 316.16 460.47 316.14 461.13 316.13C461.78 316.12 462.44 316.11 463.10 316.09C463.75 316.08 464.41 316.07 465.08 316.05C465.74 316.03 466.40 316.02 467.06 316.00C467.73 315.98 468.39 315.96 469.06 315.94C469.72 315.91 470.39 315.89 471.06 315.87C471.72 315.84 472.39 315.81 473.06 315.79C473.73 315.76 474.40 315.73 475.07 315.70C475.74 315.66 476.42 315.63 477.09 315.59C477.76 315.56 478.43 315.52 479.11 315.48C479.78 315.44 480.46 315.40 481.13 315.36C481.81 315.31 482.48 315.27 483.16 315.22C483.83 315.17 484.51 315.12 485.18 315.07C485.86 315.01 486.54 314.96 487.21 314.90C487.89 314.84 488.57 314.78 489.24 314.72C489.92 314.66 490.60 314.59 491.27 314.52C491.95 314.46 492.63 314.38 493.30 314.31C493.98 314.24 494.65 314.16 495.33 314.08C496.00 314.00 496.68 313.92 497.35 313.83C498.03 313.75 498.70 313.66 499.38 313.57C500.05 313.48 500.72 313.38 501.40 313.28C502.07 313.18 502.74 313.08 503.41 312.98C504.08 312.87 504.75 312.76 505.42 312.65C506.09 312.54 506.76 312.43 507.43 312.31C508.10 312.19 508.76 312.06 509.43 311.94C510.09 311.81 510.76 311.68 511.42 311.55C512.09 311.41 512.75 311.28 513.41 311.13C514.07 310.99 514.73 310.85 515.39 310.70C516.05 310.55 516.70 310.39 517.36 310.24C518.01 310.08 518.67 309.92 519.32 309.75C519.97 309.58 520.62 309.41 521.27 309.24C521.92 309.06 522.56 308.88 523.21 308.70C523.85 308.51 524.50 308.32 525.14 308.13C525.78 307.94 526.42 307.74 527.06 307.54C527.69 307.33 528.33 307.13 528.96 306.91C529.59 306.70 530.22 306.48 530.85 306.26C531.48 306.04 532.11 305.81 532.73 305.58C533.35 305.35 533.98 305.11 534.59 304.87C535.21 304.63 535.83 304.38 536.44 304.13C537.06 303.87 537.67 303.61 538.28 303.35C538.88 303.09 539.49 302.82 540.09 302.54C540.70 302.27 541.30 301.99 541.89 301.70C542.49 301.42 543.08 301.12 543.67 300.83C544.27 300.53 544.85 300.23 545.44 299.92C546.02 299.61 546.60 299.29 547.18 298.97C547.76 298.65 548.34 298.33 548.91 298.00C549.48 297.66 550.05 297.33 550.62 296.98C551.18 296.64 551.75 296.29 552.31 295.94C552.87 295.59 553.42 295.23 553.98 294.86C554.53 294.50 555.08 294.13 555.63 293.76C556.18 293.38 556.73 293.01 557.27 292.62C557.81 292.24 558.35 291.85 558.89 291.46C559.42 291.07 559.96 290.67 560.49 290.27C561.02 289.86 561.55 289.46 562.07 289.05C562.60 288.64 563.12 288.22 563.64 287.80C564.16 287.38 564.68 286.96 565.19 286.53C565.71 286.10 566.22 285.67 566.73 285.24C567.24 284.80 567.74 284.36 568.25 283.92C568.75 283.48 569.25 283.03 569.75 282.58C570.25 282.13 570.74 281.68 571.24 281.22C571.73 280.76 572.22 280.30 572.71 279.84C573.20 279.37 573.68 278.91 574.17 278.44C574.65 277.97 575.13 277.49 575.61 277.02C576.09 276.54 576.56 276.06 577.04 275.58C577.51 275.10 577.98 274.61 578.45 274.13C578.92 273.64 579.38 273.15 579.85 272.66C580.31 272.16 580.77 271.67 581.23 271.17C581.69 270.67 582.15 270.17 582.60 269.67C583.06 269.17 583.51 268.66 583.96 268.16C584.41 267.65 584.86 267.14 585.30 266.63C585.75 266.12 586.19 265.61 586.63 265.10C587.07 264.58 587.51 264.07 587.95 263.55C588.38 263.03 588.82 262.52 589.25 262.00C589.68 261.47 590.12 260.95 590.54 260.43C590.97 259.91 591.40 259.38 591.82 258.86C592.25 258.33 592.67 257.81 593.09 257.28C593.51 256.75 593.93 256.22 594.34 255.69C594.76 255.17 595.18 254.64 595.59 254.10C596.00 253.57 596.41 253.04 596.82 252.51C597.23 251.98 597.64 251.44 598.04 250.91C598.45 250.37 598.85 249.84 599.25 249.30C599.65 248.77 600.05 248.23 600.45 247.69C600.85 247.15 601.25 246.61 601.64 246.07C602.04 245.53 602.43 244.99 602.82 244.45C603.21 243.91 603.60 243.37 603.99 242.82C604.38 242.28 604.77 241.74 605.15 241.19C605.54 240.65 605.92 240.10 606.30 239.55C606.68 239.01 607.07 238.46 607.45 237.91C607.82 237.36 608.20 236.81 608.58 236.26C608.96 235.71 609.33 235.16 609.71 234.61C610.08 234.06 610.45 233.51 610.82 232.95C611.20 232.40 611.57 231.84 611.94 231.29C612.30 230.73 612.67 230.18 613.04 229.62C613.41 229.06 613.77 228.51 614.14 227.95C614.50 227.39 614.86 226.83 615.22 226.27C615.59 225.71 615.95 225.15 616.31 224.59C616.67 224.02 617.03 223.46 617.39 222.90C617.74 222.34 618.10 221.77 618.46 221.21C618.81 220.64 619.17 220.08 619.52 219.51C619.88 218.94 620.23 218.37 620.58 217.81C620.94 217.24 621.29 216.67 621.64 216.10C621.99 215.53 622.34 214.96 622.69 214.39C623.04 213.82 623.39 213.24 623.74 212.67C624.09 212.10 624.43 211.52 624.78 210.95C625.13 210.38 625.47 209.80 625.82 209.22C626.17 208.65 626.51 208.07 626.86 207.49C627.20 206.92 627.55 206.34 627.89 205.76C628.24 205.18 628.58 204.61 628.93 204.03C629.27 203.45 629.62 202.87 629.96 202.30C630.31 201.72 630.66 201.14 631.00 200.56C631.35 199.99 631.70 199.41 632.05 198.84C632.40 198.26 632.75 197.69 633.10 197.12C633.45 196.54 633.81 195.97 634.16 195.40C634.52 194.83 634.87 194.26 635.23 193.69C635.59 193.13 635.95 192.56 636.32 192.00C636.68 191.43 637.05 190.87 637.41 190.31C637.78 189.75 638.15 189.19 638.53 188.64C638.90 188.08 639.28 187.53 639.65 186.98C640.03 186.43 640.42 185.88 640.80 185.34C641.19 184.79 641.58 184.25 641.97 183.71C642.36 183.18 642.76 182.64 643.16 182.11C643.56 181.58 643.96 181.05 644.37 180.53C644.78 180.00 645.19 179.48 645.61 178.96C646.03 178.45 646.45 177.93 646.87 177.43C647.30 176.92 647.73 176.41 648.17 175.91C648.60 175.41 649.04 174.92 649.48 174.42C649.93 173.93 650.38 173.44 650.83 172.96C651.28 172.47 651.74 171.99 652.20 171.52C652.66 171.04 653.13 170.57 653.60 170.10C654.07 169.63 654.54 169.17 655.02 168.71C655.50 168.25 655.98 167.79 656.47 167.34C656.96 166.89 657.45 166.44 657.94 166.00C658.44 165.55 658.94 165.11 659.44 164.67C659.94 164.24 660.45 163.81 660.96 163.38C661.47 162.95 661.99 162.53 662.51 162.11C663.02 161.68 663.55 161.27 664.07 160.86C664.60 160.44 665.13 160.04 665.67 159.63C666.20 159.23 666.74 158.83 667.28 158.43C667.82 158.03 668.37 157.64 668.92 157.25C669.47 156.86 670.02 156.47 670.57 156.09C671.13 155.71 671.69 155.33 672.25 154.95C672.81 154.58 673.38 154.21 673.94 153.84C674.51 153.47 675.08 153.10 675.66 152.74C676.23 152.38 676.81 152.02 677.39 151.66C677.97 151.31 678.55 150.96 679.13 150.61C679.72 150.26 680.32 149.42 680.89 149.57C681.47 149.71 682.02 151.33 682.60 151.48C683.17 151.62 683.73 150.77 684.33 150.44C684.92 150.11 685.53 149.80 686.15 149.51C686.77 149.21 687.41 148.94 688.05 148.68C688.69 148.43 689.35 148.19 690.01 147.97C690.67 147.76 691.35 147.56 692.02 147.39C692.70 147.22 693.38 147.06 694.06 146.94C694.74 146.81 695.43 146.70 696.11 146.62C696.79 146.54 697.48 146.48 698.16 146.45C698.84 146.41 699.52 146.40 700.19 146.42C700.86 146.44 701.53 146.49 702.19 146.56C702.85 146.63 703.50 146.73 704.14 146.86C704.78 146.99 705.41 147.14 706.03 147.33C706.64 147.51 707.25 147.73 707.84 147.96C708.43 148.20 709.02 148.47 709.59 148.75C710.16 149.04 710.72 149.35 711.27 149.68C711.82 150.02 712.36 150.37 712.88 150.74C713.41 151.12 713.93 151.51 714.44 151.92C714.94 152.33 715.44 152.76 715.93 153.21C716.41 153.65 716.89 154.11 717.36 154.58C717.82 155.06 718.28 155.55 718.73 156.04C719.18 156.54 719.61 157.05 720.04 157.57C720.47 158.09 720.89 158.62 721.30 159.16C721.72 159.69 722.12 160.24 722.51 160.79C722.90 161.34 723.29 161.89 723.67 162.45C724.04 163.01 724.41 163.57 724.77 164.14C725.13 164.71 725.48 165.28 725.83 165.85C726.17 166.43 726.51 167.01 726.84 167.59C727.17 168.18 727.49 168.76 727.81 169.35C728.12 169.94 728.43 170.54 728.73 171.13C729.03 171.73 729.33 172.33 729.62 172.93C729.91 173.54 730.19 174.14 730.46 174.75C730.74 175.36 731.01 175.97 731.28 176.59C731.54 177.20 731.80 177.82 732.06 178.44C732.31 179.06 732.56 179.68 732.81 180.31C733.05 180.93 733.29 181.56 733.53 182.19C733.76 182.82 733.99 183.45 734.22 184.08C734.44 184.72 734.67 185.35 734.89 185.99C735.10 186.62 735.32 187.26 735.53 187.90C735.74 188.54 735.95 189.18 736.15 189.82C736.36 190.47 736.56 191.11 736.76 191.75C736.96 192.40 737.15 193.04 737.35 193.69C737.54 194.34 737.73 194.98 737.92 195.63C738.11 196.28 738.30 196.93 738.48 197.58C738.67 198.23 738.85 198.88 739.04 199.53C739.22 200.18 739.40 200.83 739.58 201.48C739.76 202.13 739.94 202.78 740.12 203.42C740.30 204.07 740.47 204.72 740.65 205.37C740.83 206.02 741.01 206.67 741.18 207.32C741.36 207.97 741.54 208.62 741.72 209.26C741.89 209.91 742.07 210.55 742.25 211.20C742.43 211.84 742.61 212.49 742.79 213.13C742.97 213.77 743.15 214.42 743.34 215.06C743.52 215.70 743.70 216.34 743.88 216.98C744.07 217.62 744.25 218.25 744.43 218.89C744.62 219.53 744.80 220.17 744.99 220.80C745.17 221.44 745.35 222.08 745.53 222.72C745.72 223.35 745.90 223.99 746.08 224.63C746.26 225.26 746.44 225.90 746.62 226.54C746.79 227.18 746.97 227.82 747.15 228.45C747.32 229.09 747.50 229.73 747.67 230.37C747.84 231.01 748.01 231.65 748.17 232.30C748.34 232.94 748.51 233.58 748.67 234.23C748.83 234.87 748.99 235.52 749.15 236.17C749.30 236.82 749.45 237.46 749.60 238.12C749.75 238.77 749.90 239.42 750.04 240.07C750.18 240.73 750.32 241.39 750.46 242.05C750.59 242.70 750.72 243.37 750.85 244.03C750.98 244.69 751.10 245.36 751.22 246.03C751.33 246.70 751.45 247.37 751.55 248.04C751.66 248.72 751.81 249.74 751.86 250.08" stroke="#ed7d31"/>
<path d="M451.08 343.19C451.41 343.24 452.41 343.41 453.08 343.51C453.74 343.61 454.41 343.71 455.08 343.81C455.75 343.90 456.42 343.99 457.09 344.07C457.76 344.16 458.43 344.24 459.10 344.32C459.77 344.39 460.44 344.47 461.11 344.53C461.78 344.60 462.45 344.66 463.12 344.72C463.79 344.78 464.46 344.84 465.13 344.89C465.80 344.94 466.48 344.98 467.15 345.02C467.82 345.06 468.49 345.10 469.16 345.13C469.83 345.16 470.51 345.19 471.18 345.22C471.85 345.24 472.52 345.26 473.19 345.27C473.86 345.29 474.54 345.30 475.21 345.30C475.88 345.31 476.55 345.31 477.22 345.31C477.89 345.31 478.56 345.30 479.24 345.29C479.91 345.28 480.58 345.26 481.25 345.24C481.92 345.22 482.59 345.19 483.26 345.17C483.93 345.14 484.60 345.10 485.27 345.06C485.93 345.03 486.60 344.98 487.27 344.94C487.94 344.89 488.61 344.84 489.27 344.79C489.94 344.73 490.61 344.67 491.27 344.61C491.94 344.54 492.61 344.47 493.27 344.40C493.93 344.33 494.60 344.25 495.26 344.17C495.93 344.09 496.59 344.00 497.25 343.91C497.91 343.82 498.57 343.73 499.24 343.63C499.90 343.53 500.56 343.43 501.21 343.32C501.87 343.22 502.53 343.10 503.19 342.99C503.85 342.87 504.50 342.75 505.16 342.63C505.81 342.50 506.47 342.38 507.12 342.24C507.78 342.11 508.43 341.97 509.08 341.83C509.73 341.69 510.38 341.54 511.03 341.39C511.68 341.24 512.33 341.09 512.97 340.93C513.62 340.77 514.27 340.61 514.91 340.44C515.56 340.27 516.20 340.10 516.84 339.93C517.48 339.75 518.12 339.57 518.76 339.39C519.40 339.20 520.04 339.01 520.68 338.82C521.31 338.63 521.95 338.43 522.58 338.23C523.22 338.03 523.85 337.82 524.48 337.61C525.11 337.40 525.74 337.19 526.37 336.97C526.99 336.75 527.62 336.53 528.24 336.30C528.87 336.08 529.49 335.85 530.11 335.61C530.73 335.37 531.35 335.14 531.97 334.89C532.59 334.65 533.20 334.40 533.82 334.15C534.43 333.90 535.05 333.64 535.66 333.38C536.27 333.12 536.88 332.85 537.48 332.59C538.09 332.32 538.69 332.04 539.30 331.77C539.90 331.49 540.50 331.21 541.10 330.92C541.70 330.64 542.30 330.35 542.89 330.05C543.49 329.76 544.08 329.46 544.67 329.16C545.26 328.85 545.85 328.55 546.44 328.24C547.02 327.93 547.61 327.61 548.19 327.29C548.77 326.97 549.35 326.65 549.93 326.32C550.51 326.00 551.08 325.66 551.65 325.33C552.23 324.99 552.80 324.65 553.37 324.31C553.93 323.96 554.50 323.62 555.06 323.26C555.63 322.91 556.19 322.55 556.75 322.19C557.30 321.83 557.86 321.47 558.41 321.10C558.97 320.73 559.52 320.36 560.06 319.98C560.61 319.60 561.16 319.22 561.70 318.84C562.24 318.45 562.78 318.06 563.32 317.67C563.86 317.27 564.39 316.88 564.93 316.48C565.46 316.07 565.99 315.67 566.51 315.26C567.04 314.85 567.56 314.43 568.08 314.01C568.60 313.60 569.12 313.17 569.64 312.75C570.15 312.32 570.66 311.89 571.17 311.46C571.68 311.02 572.18 310.58 572.69 310.14C573.19 309.70 573.69 309.25 574.19 308.80C574.68 308.35 575.17 307.89 575.66 307.43C576.15 306.98 576.64 306.51 577.13 306.04C577.61 305.58 578.09 305.11 578.57 304.63C579.04 304.16 579.52 303.68 579.99 303.19C580.46 302.71 580.93 302.22 581.39 301.73C581.85 301.24 582.31 300.74 582.77 300.24C583.23 299.75 583.68 299.24 584.13 298.74C584.59 298.23 585.03 297.72 585.48 297.21C585.93 296.70 586.37 296.18 586.81 295.66C587.25 295.15 587.69 294.63 588.13 294.11C588.57 293.58 589.00 293.06 589.44 292.53C589.87 292.01 590.30 291.48 590.73 290.95C591.16 290.43 591.59 289.90 592.02 289.37C592.45 288.84 592.88 288.31 593.31 287.77C593.73 287.24 594.16 286.71 594.59 286.18C595.01 285.65 595.44 285.12 595.86 284.59C596.29 284.06 596.72 283.52 597.14 283.00C597.57 282.47 597.99 281.94 598.42 281.41C598.85 280.88 599.27 280.35 599.70 279.83C600.13 279.31 600.56 278.78 600.99 278.26C601.42 277.74 601.85 277.22 602.28 276.71C602.72 276.19 603.15 275.68 603.58 275.16C604.02 274.65 604.46 274.15 604.90 273.64C605.34 273.14 605.78 272.63 606.22 272.14C606.67 271.64 607.11 271.14 607.56 270.65C608.01 270.17 608.46 269.68 608.92 269.20C609.37 268.72 609.83 268.24 610.29 267.77C610.75 267.30 611.22 266.83 611.68 266.37C612.15 265.91 612.62 265.45 613.10 265.00C613.57 264.55 614.05 264.10 614.54 263.67C615.02 263.23 615.51 262.80 616.00 262.37C616.49 261.94 616.99 261.52 617.49 261.11C617.99 260.70 618.50 260.30 619.01 259.90C619.52 259.50 620.03 259.11 620.56 258.73C621.08 258.34 621.60 257.97 622.14 257.60C622.67 257.24 623.21 256.88 623.75 256.53C624.30 256.18 624.85 255.84 625.40 255.50C625.96 255.17 626.52 254.85 627.09 254.54C627.66 254.22 628.24 253.92 628.82 253.63C629.40 253.34 629.98 253.06 630.57 252.79C631.17 252.52 631.76 252.26 632.37 252.01C632.97 251.77 633.58 251.53 634.20 251.31C634.81 251.09 635.43 250.89 636.06 250.69C636.68 250.50 637.31 250.32 637.95 250.16C638.59 249.99 639.23 249.84 639.88 249.71C640.52 249.57 641.18 249.45 641.83 249.35C642.49 249.25 643.16 249.16 643.82 249.09C644.49 249.02 645.16 248.97 645.84 248.93C646.52 248.90 647.20 248.88 647.89 248.89C648.58 248.89 649.27 248.91 649.97 248.95C650.67 248.99 651.37 249.05 652.08 249.13C652.78 249.21 653.49 249.30 654.21 249.43C654.93 249.55 655.65 249.69 656.37 249.85C657.10 250.01 657.93 249.94 658.56 250.41C659.19 250.87 659.57 252.16 660.17 252.65C660.76 253.15 661.49 253.14 662.14 253.40C662.79 253.66 663.44 253.93 664.07 254.20C664.71 254.48 665.33 254.77 665.95 255.07C666.57 255.37 667.18 255.68 667.79 256.00C668.39 256.32 668.99 256.65 669.58 256.98C670.17 257.32 670.75 257.67 671.32 258.02C671.90 258.38 672.47 258.74 673.03 259.11C673.59 259.48 674.15 259.86 674.70 260.25C675.25 260.64 675.79 261.03 676.33 261.44C676.86 261.84 677.39 262.25 677.92 262.67C678.44 263.08 678.96 263.51 679.48 263.94C679.99 264.37 680.50 264.81 681.00 265.25C681.50 265.69 682.00 266.14 682.49 266.60C682.98 267.05 683.47 267.52 683.95 267.98C684.44 268.45 684.91 268.92 685.39 269.40C685.86 269.87 686.33 270.36 686.79 270.84C687.26 271.33 687.72 271.82 688.17 272.32C688.63 272.81 689.08 273.31 689.53 273.81C689.98 274.32 690.42 274.82 690.86 275.33C691.30 275.85 691.74 276.36 692.18 276.88C692.61 277.39 693.04 277.91 693.47 278.43C693.90 278.96 694.32 279.48 694.74 280.01C695.17 280.54 695.58 281.07 696.00 281.60C696.42 282.13 696.83 282.67 697.24 283.21C697.65 283.75 698.06 284.29 698.47 284.83C698.87 285.37 699.27 285.92 699.67 286.46C700.07 287.01 700.47 287.56 700.87 288.11C701.26 288.66 701.66 289.22 702.05 289.77C702.44 290.33 702.83 290.88 703.22 291.44C703.60 292.00 703.99 292.56 704.37 293.12C704.75 293.68 705.13 294.25 705.51 294.81C705.89 295.38 706.27 295.94 706.65 296.51C707.02 297.08 707.40 297.65 707.77 298.22C708.14 298.79 708.51 299.36 708.88 299.94C709.25 300.51 709.62 301.08 709.99 301.66C710.35 302.23 710.72 302.81 711.09 303.38C711.45 303.96 711.81 304.54 712.18 305.12C712.54 305.69 712.90 306.27 713.26 306.85C713.62 307.43 713.98 308.01 714.34 308.59C714.70 309.17 715.06 309.75 715.41 310.34C715.77 310.92 716.13 311.50 716.49 312.08C716.84 312.66 717.20 313.24 717.55 313.82C717.91 314.41 718.26 314.99 718.62 315.57C718.97 316.15 719.33 316.73 719.68 317.31C720.04 317.90 720.39 318.48 720.75 319.06C721.10 319.64 721.46 320.22 721.81 320.80C722.17 321.38 722.52 321.96 722.88 322.54C723.23 323.12 723.59 323.70 723.94 324.27C724.30 324.85 724.66 325.43 725.01 326.00C725.37 326.58 725.73 327.15 726.09 327.73C726.44 328.30 726.80 328.88 727.16 329.45C727.52 330.02 727.88 330.59 728.24 331.16C728.60 331.73 728.97 332.30 729.33 332.86C729.69 333.43 730.06 334.00 730.42 334.56C730.79 335.12 731.16 335.69 731.52 336.25C731.89 336.81 732.26 337.37 732.63 337.92C733.00 338.48 733.38 339.04 733.75 339.59C734.12 340.14 734.50 340.69 734.88 341.24C735.25 341.79 735.82 342.61 736.01 342.89L739.3 348.4L752 348.6" stroke="#a5a5a5"/>
</g>
<g stroke-width="3.2" stroke-linecap="round">
<line x1="102.5" y1="37.2" x2="138.0" y2="37.2" stroke="#5b9bd5"/>
<line x1="164.5" y1="37.2" x2="199.5" y2="37.2" stroke="#ed7d31"/>
<line x1="233.5" y1="37.2" x2="269.5" y2="37.2" stroke="#a5a5a5"/>
<line x1="497.0" y1="39.1" x2="532.5" y2="39.1" stroke="#5b9bd5"/>
<line x1="558.0" y1="39.1" x2="593.0" y2="39.1" stroke="#ed7d31"/>
<line x1="618.5" y1="39.1" x2="654.5" y2="39.1" stroke="#a5a5a5"/>
</g>
<g fill="#000" stroke="#000" stroke-width="0.35" font-family='"Liberation Sans", sans-serif'>
<text x="142.3" y="42.0" font-size="15" text-anchor="start">3</text>
<text x="203.6" y="42.0" font-size="15" text-anchor="start">5a</text>
<text x="273.6" y="42.0" font-size="15" text-anchor="start">5b</text>
<text x="536.3" y="43.8" font-size="15" text-anchor="start">4</text>
<text x="596.5" y="43.8" font-size="15" text-anchor="start">6</text>
<text x="657.7" y="43.8" font-size="15" text-anchor="start">7</text>
<text x="51.0" y="11.8" font-size="15" text-anchor="end">1.6</text>
<text x="51.0" y="97.9" font-size="15" text-anchor="end">1.2</text>
<text x="51.0" y="183.9" font-size="15" text-anchor="end">0.8</text>
<text x="51.0" y="269.9" font-size="15" text-anchor="end">0.4</text>
<text x="51.0" y="355.8" font-size="15" text-anchor="end">0</text>
<text x="67.0" y="374.1" font-size="15" text-anchor="middle">300</text>
<text x="133.1" y="374.1" font-size="15" text-anchor="middle">350</text>
<text x="199.2" y="374.1" font-size="15" text-anchor="middle">400</text>
<text x="265.3" y="374.1" font-size="15" text-anchor="middle">450</text>
<text x="331.4" y="374.1" font-size="15" text-anchor="middle">500</text>
<text x="436.0" y="104.0" font-size="15" text-anchor="end">0.8</text>
<text x="436.0" y="231.0" font-size="15" text-anchor="end">0.4</text>
<text x="436.0" y="357.8" font-size="15" text-anchor="end">0</text>
<text x="451.6" y="376.3" font-size="15" text-anchor="middle">300</text>
<text x="520.8" y="376.3" font-size="15" text-anchor="middle">350</text>
<text x="590.0" y="376.3" font-size="15" text-anchor="middle">400</text>
<text x="659.2" y="376.3" font-size="15" text-anchor="middle">450</text>
<text x="728.4" y="376.3" font-size="15" text-anchor="middle">500</text>
<text x="193.6" y="413.0" font-size="15.6" text-anchor="middle">Wavelength</text>
<text x="600.6" y="418.8" font-size="15.6" text-anchor="middle">Wavelength</text>
<text x="0.0" y="0.0" font-size="15.0" text-anchor="middle" transform="translate(12.3 175.4) rotate(-90)">Absorbance</text>
<text x="0.0" y="0.0" font-size="14.7" text-anchor="middle" transform="translate(406.5 162.4) rotate(-90)">Absorbance</text>
</g>
</svg>
</body></html>
